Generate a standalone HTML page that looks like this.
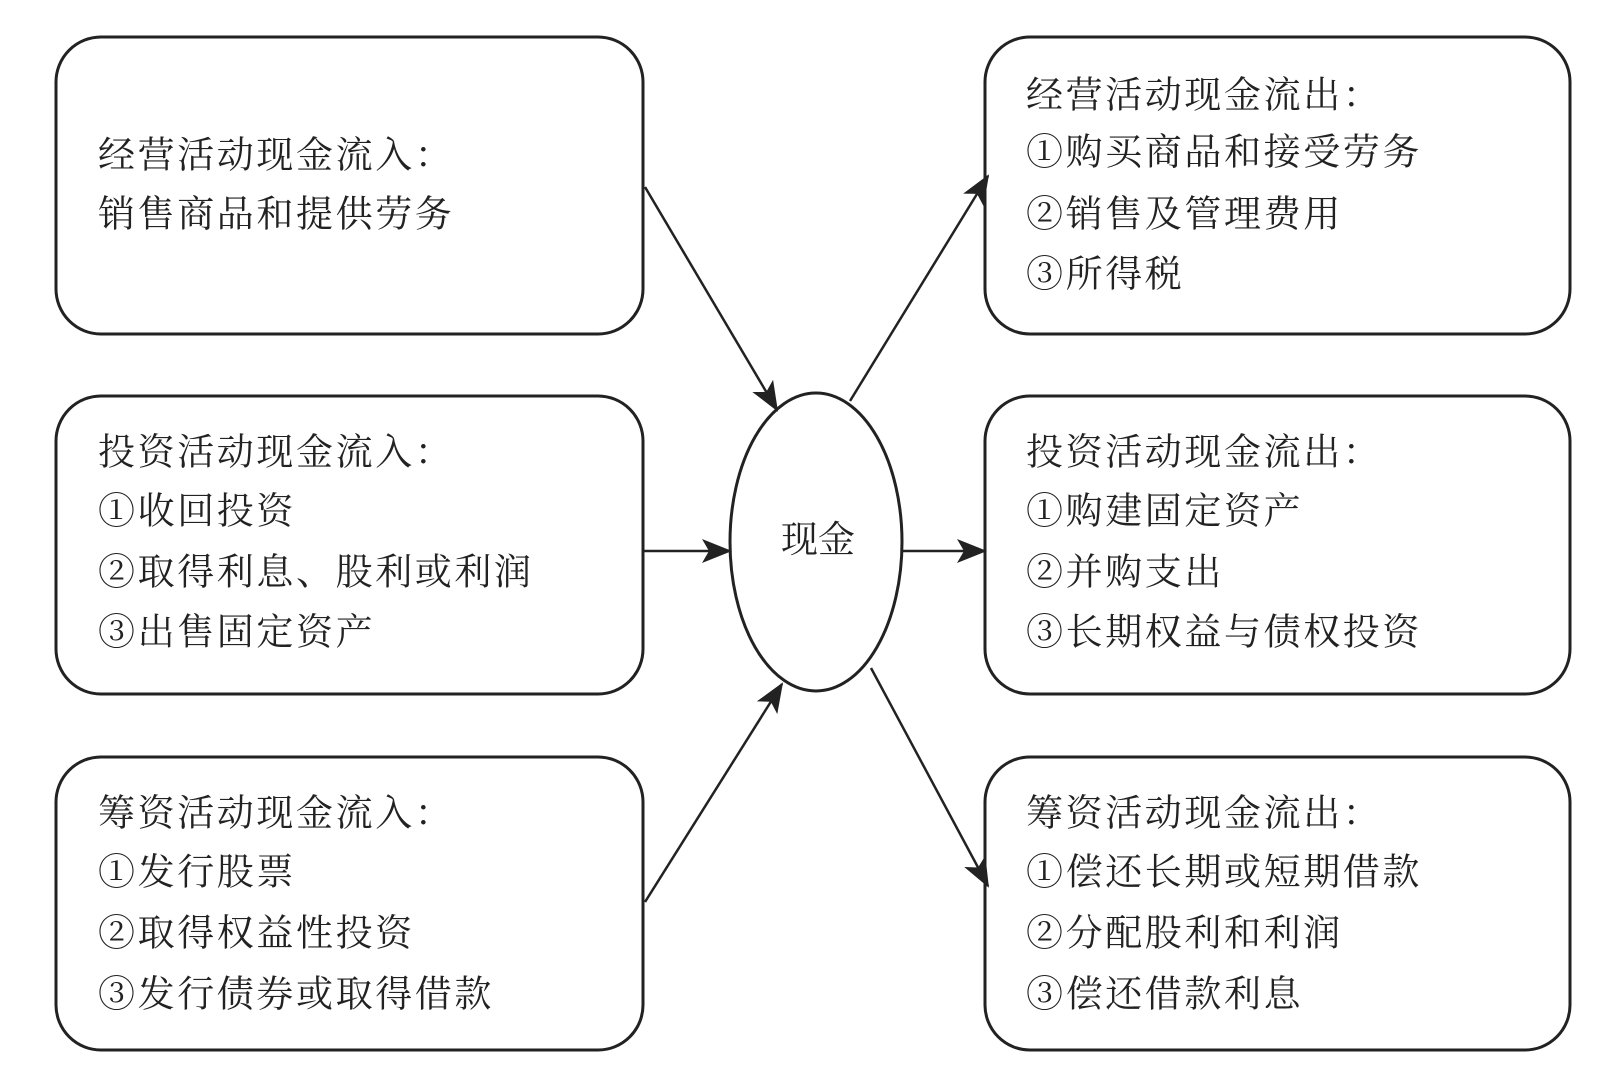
<!DOCTYPE html>
<html><head><meta charset="utf-8"><style>
body{margin:0;background:#fff}
svg text{font-family:"Liberation Serif","Noto Serif CJK SC",serif;font-size:37px;fill:#222;letter-spacing:2.6px}
</style></head><body>
<svg width="1617" height="1087" viewBox="0 0 1617 1087" xmlns="http://www.w3.org/2000/svg">
<defs>
<marker id="b" markerWidth="30" markerHeight="24" refX="28" refY="12" orient="auto" markerUnits="userSpaceOnUse" viewBox="0 0 30 24"><path d="M0,0 L30,12 L0,24 L7,12 z" fill="#222"/></marker></defs>
<g fill="none" stroke="#222" stroke-width="3">
<rect x="56" y="37" width="587" height="297" rx="45"/>
<rect x="56" y="396" width="587" height="298" rx="45"/>
<rect x="56" y="757" width="587" height="293" rx="45"/>
<rect x="985" y="37" width="585" height="297" rx="45"/>
<rect x="985" y="396" width="585" height="298" rx="45"/>
<rect x="985" y="757" width="585" height="293" rx="45"/>
<ellipse cx="816" cy="542" rx="86" ry="149"/>
</g>
<g stroke="#222" stroke-width="2.5" marker-end="url(#b)">
<line x1="645" y1="187" x2="777" y2="410"/>
<line x1="850" y1="401" x2="988" y2="176"/>
<line x1="643" y1="551" x2="730" y2="551"/>
<line x1="902" y1="551" x2="985" y2="551"/>
<line x1="645" y1="902" x2="782" y2="684"/>
<line x1="871" y1="668" x2="988" y2="886"/>
</g>
<text x="818" y="552" text-anchor="middle" style="letter-spacing:0">现金</text>
<g dominant-baseline="central">
<text x="98" y="156">经营活动现金流入：</text>
<text x="98" y="215">销售商品和提供劳务</text>
<text x="98" y="453">投资活动现金流入：</text>
<text x="98" y="512">①收回投资</text>
<text x="98" y="573">②取得利息、股利或利润</text>
<text x="98" y="633">③出售固定资产</text>
<text x="98" y="814">筹资活动现金流入：</text>
<text x="98" y="873">①发行股票</text>
<text x="98" y="934">②取得权益性投资</text>
<text x="98" y="995">③发行债券或取得借款</text>
<text x="1026" y="96">经营活动现金流出：</text>
<text x="1026" y="153">①购买商品和接受劳务</text>
<text x="1026" y="215">②销售及管理费用</text>
<text x="1026" y="275">③所得税</text>
<text x="1026" y="453">投资活动现金流出：</text>
<text x="1026" y="512">①购建固定资产</text>
<text x="1026" y="573">②并购支出</text>
<text x="1026" y="633">③长期权益与债权投资</text>
<text x="1026" y="814">筹资活动现金流出：</text>
<text x="1026" y="873">①偿还长期或短期借款</text>
<text x="1026" y="934">②分配股利和利润</text>
<text x="1026" y="995">③偿还借款利息</text>
</g>
</svg>
</body></html>
